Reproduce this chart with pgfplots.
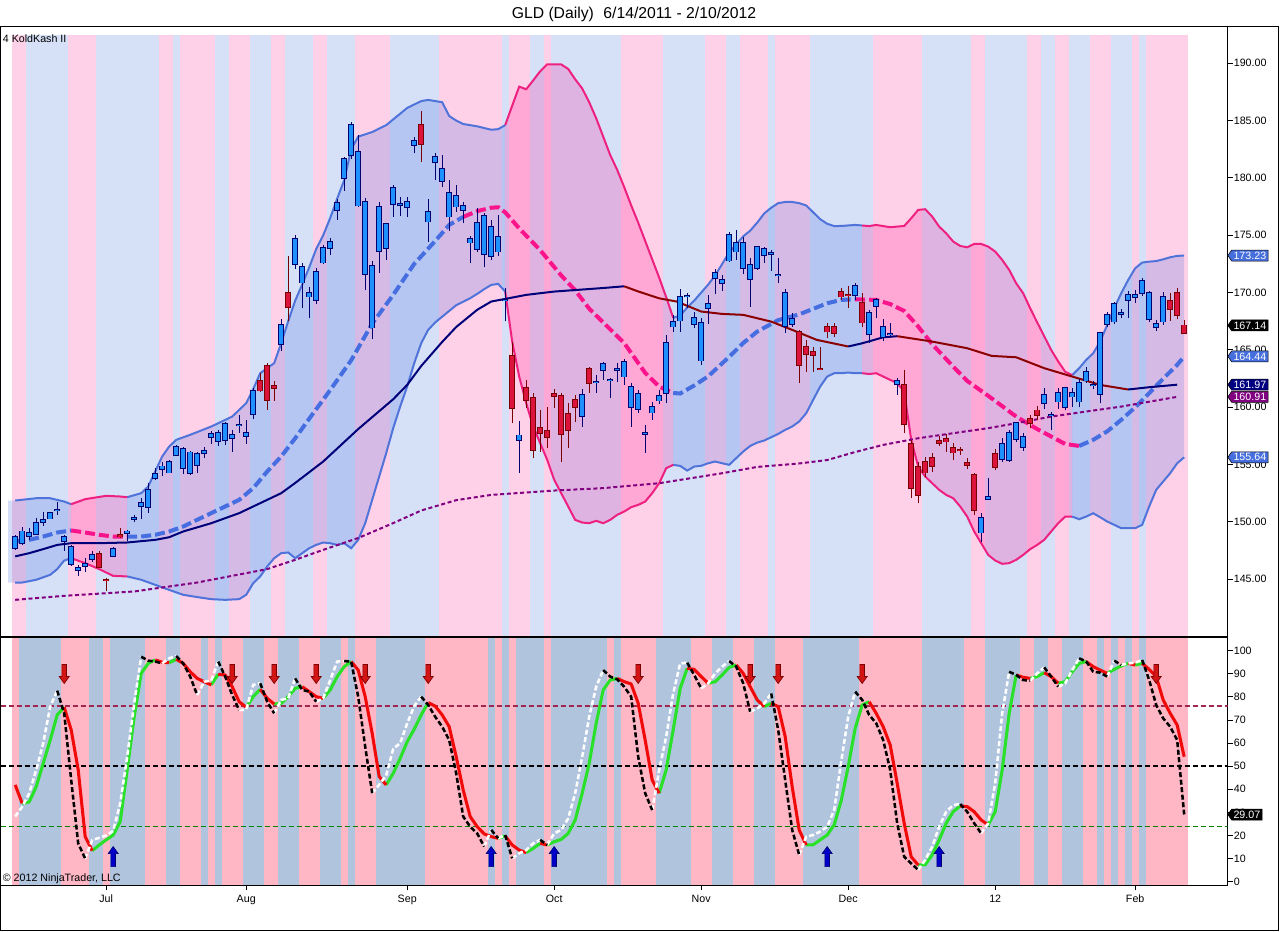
\documentclass[border=0pt]{standalone}
\usepackage{fontspec}
\setmainfont{Liberation Sans}
\usepackage{pgfplots}
\usepackage{pgfplotstable}
\pgfplotsset{compat=1.18}
\usepgfplotslibrary{fillbetween}
\usetikzlibrary{shapes.symbols}

\definecolor{pinkU}{RGB}{255,209,232}
\definecolor{blueU}{RGB}{214,225,247}
\definecolor{pinkL}{RGB}{255,183,197}
\definecolor{blueL}{RGB}{176,196,222}
\definecolor{bbBlue}{RGB}{80,115,218}
\definecolor{bbPink}{RGB}{238,32,128}
\definecolor{fillBlue}{RGB}{65,105,225}
\definecolor{fillPink}{RGB}{255,20,147}
\definecolor{midBlue}{RGB}{70,110,225}
\definecolor{midPink}{RGB}{250,20,140}
\definecolor{maNavy}{RGB}{0,0,120}
\definecolor{maRed}{RGB}{139,0,0}
\definecolor{pmPurple}{RGB}{128,0,128}
\definecolor{cBlue}{RGB}{30,144,255}
\definecolor{cBlueE}{RGB}{0,0,110}
\definecolor{cRed}{RGB}{220,20,60}
\definecolor{cRedE}{RGB}{120,0,0}
\definecolor{stGreen}{RGB}{40,225,40}
\definecolor{stRed}{RGB}{240,10,10}
\definecolor{lvMaroon}{RGB}{160,40,80}
\definecolor{lvGreen}{RGB}{0,130,0}
\definecolor{arRed}{RGB}{210,20,20}
\definecolor{arBlue}{RGB}{0,0,200}
\definecolor{boxBlue}{RGB}{70,110,220}
\definecolor{boxNavy}{RGB}{0,0,128}
\definecolor{boxPurple}{RGB}{128,0,128}

\pgfdeclareplotmark{dnarrow}{%
  \pgfpathmoveto{\pgfqpoint{0pt}{0pt}}%
  \pgfpathlineto{\pgfqpoint{3.75pt}{5.25pt}}%
  \pgfpathlineto{\pgfqpoint{1.75pt}{5.25pt}}%
  \pgfpathlineto{\pgfqpoint{1.75pt}{14.25pt}}%
  \pgfpathlineto{\pgfqpoint{-1.75pt}{14.25pt}}%
  \pgfpathlineto{\pgfqpoint{-1.75pt}{5.25pt}}%
  \pgfpathlineto{\pgfqpoint{-3.75pt}{5.25pt}}%
  \pgfpathclose
  \pgfusepathqfillstroke}
\pgfdeclareplotmark{uparrow}{%
  \pgfpathmoveto{\pgfqpoint{0pt}{0pt}}%
  \pgfpathlineto{\pgfqpoint{3.75pt}{-5.25pt}}%
  \pgfpathlineto{\pgfqpoint{1.75pt}{-5.25pt}}%
  \pgfpathlineto{\pgfqpoint{1.75pt}{-15pt}}%
  \pgfpathlineto{\pgfqpoint{-1.75pt}{-15pt}}%
  \pgfpathlineto{\pgfqpoint{-1.75pt}{-5.25pt}}%
  \pgfpathlineto{\pgfqpoint{-3.75pt}{-5.25pt}}%
  \pgfpathclose
  \pgfusepathqfillstroke}

% ---------- stripes ----------
\pgfplotstableread{
a b
-0.5 167.5
}\stAll
\pgfplotstableread{
a b
-0.5 1.5
7.5 11.5
20.5 22.5
23.5 28.5
30.5 33.5
36.5 38.5
42.5 44.5
48.5 53.5
60.5 69.5
70.5 73.5
75.5 76.5
86.5 92.5
98.5 101.5
103.5 107.5
108.5 113.5
122.5 129.5
136.5 138.5
144.5 146.5
148.5 150.5
153.5 156.5
159.5 160.5
161.5 167.5
}\stUP
\pgfplotstableread{
a b
-0.5 0.5
6.5 10.5
12.5 13.5
18.5 21.5
23.5 26.5
27.5 28.5
29.5 32.5
35.5 37.5
40.5 43.5
46.5 47.5
48.5 51.5
58.5 67.5
68.5 69.5
70.5 71.5
75.5 76.5
84.5 85.5
86.5 91.5
96.5 99.5
102.5 105.5
108.5 112.5
120.5 129.5
135.5 138.5
143.5 145.5
147.5 149.5
152.5 154.5
155.5 156.5
157.5 158.5
159.5 160.5
161.5 167.5
}\stLP

% ---------- candles ----------
\pgfplotstableread{
k o h l c
0 147.71 148.88 147.57 148.73
1 148.15 149.60 148.00 149.17
2 148.79 149.46 148.44 149.02
3 148.97 150.33 148.88 149.95
4 150.01 150.83 149.66 150.19
5 150.30 150.91 150.24 150.77
6 151.00 151.78 150.62 151.06
7 148.30 148.88 147.43 148.68
8 146.35 148.00 146.18 147.86
9 145.77 146.26 145.30 145.97
10 146.18 146.84 145.68 146.35
11 146.76 147.43 146.55 147.14
14 147.05 147.86 146.93 147.63
16 149.02 149.31 148.30 149.17
17 150.27 150.62 150.04 150.33
18 151.41 152.07 150.24 151.64
19 151.29 153.38 150.77 152.80
20 153.82 154.69 153.67 154.17
21 154.60 155.27 154.02 154.84
22 154.31 155.42 154.25 155.27
23 155.80 156.73 155.71 156.58
24 154.69 156.58 154.20 156.35
25 154.25 156.23 154.11 156.06
26 154.98 156.14 154.31 155.91
27 156.00 156.58 155.56 156.23
28 157.39 157.89 156.81 157.68
29 157.07 158.03 156.64 157.80
30 157.16 158.76 156.72 158.55
31 157.30 158.03 156.14 157.59
32 158.40 159.34 157.80 158.47
33 157.51 158.91 156.81 157.80
34 159.43 161.66 158.96 161.46
38 165.53 167.68 164.95 167.19
40 172.50 175.03 172.04 174.65
41 170.87 172.60 168.64 172.27
42 169.65 170.53 167.77 170.00
43 169.36 172.12 169.01 171.83
44 172.62 174.16 172.50 173.87
45 173.87 174.74 173.29 174.45
46 177.21 178.14 176.34 177.79
47 179.97 181.86 178.90 181.63
48 182.01 184.91 181.63 184.62
49 177.59 183.75 177.50 182.24
50 171.63 178.23 170.24 177.88
51 166.95 172.79 165.94 172.33
52 173.64 177.94 171.75 177.50
53 173.87 176.11 172.85 175.99
54 177.73 179.39 176.63 179.10
55 177.66 178.37 176.69 177.73
56 177.44 178.37 176.57 177.88
57 182.88 183.60 182.15 183.25
59 176.19 178.14 174.45 177.06
60 181.37 182.15 179.83 181.80
61 179.74 182.00 179.19 180.76
62 176.63 179.83 175.41 178.72
63 177.50 179.39 177.06 178.46
64 177.21 177.94 176.05 177.56
65 174.36 174.94 172.56 174.65
66 173.78 177.36 173.58 176.05
67 173.37 176.92 172.21 176.69
68 173.20 176.34 172.85 175.76
69 173.58 176.77 173.20 174.83
70 169.30 170.38 167.48 169.36
72 157.16 158.84 154.25 157.54
81 159.25 161.58 158.26 161.08
83 162.18 162.82 161.23 162.24
84 163.26 163.99 162.39 163.78
85 162.33 162.53 160.79 162.39
86 163.26 163.84 162.24 163.32
87 162.68 164.19 161.95 163.99
88 160.00 162.15 158.32 161.81
89 159.83 161.52 159.54 161.14
90 157.68 158.46 156.05 157.74
91 159.54 160.50 158.90 160.00
92 160.59 161.52 160.30 161.00
93 161.23 166.31 160.41 165.64
94 167.04 168.05 166.60 167.44
95 167.56 170.29 166.60 169.59
96 169.65 170.00 168.64 169.71
97 167.27 168.35 166.89 167.76
98 164.07 167.76 163.70 167.39
99 168.64 169.80 167.27 169.01
100 171.25 172.04 169.89 171.69
101 170.82 171.54 170.18 171.11
102 172.79 175.32 172.70 175.03
103 173.58 175.46 172.85 174.36
104 172.12 174.83 171.63 174.30
105 171.16 172.99 168.78 172.41
106 172.12 174.07 171.98 173.95
107 173.29 174.01 172.62 173.78
108 173.37 173.72 171.92 173.43
109 171.48 172.99 170.87 171.54
110 167.10 170.29 166.46 170.00
111 167.27 168.20 166.98 167.68
120 169.80 170.87 169.36 170.58
122 166.40 168.49 165.64 168.20
123 168.84 169.51 167.76 169.36
124 166.11 167.68 165.82 166.98
125 166.34 167.33 166.11 166.40
126 162.04 162.53 161.08 162.33
138 149.08 150.76 148.29 150.33
139 151.99 153.81 151.93 152.16
141 155.47 157.30 155.27 156.81
142 155.36 158.03 155.27 157.74
143 157.22 158.76 157.01 158.61
144 156.52 157.74 156.23 157.39
147 160.35 161.66 159.83 161.08
148 159.28 159.63 158.03 159.34
149 160.50 161.66 159.83 161.23
150 160.00 161.81 159.72 161.66
151 160.94 161.66 160.06 161.23
152 160.50 162.45 160.00 162.10
153 162.33 163.49 162.16 163.12
154 161.89 162.33 161.57 161.95
155 161.17 166.60 160.35 166.46
156 167.27 168.35 167.04 168.06
157 167.47 169.22 167.27 169.01
158 168.14 168.55 167.76 168.20
159 169.36 170.18 167.76 169.80
160 169.60 170.24 169.13 169.80
161 169.94 171.25 169.71 171.05
162 167.68 170.18 167.47 169.94
163 166.98 167.62 166.69 167.27
164 167.47 170.09 167.18 169.65
}\cBlueT
\pgfplotstableread{
k o h l c
12 147.20 147.43 145.97 146.06
13 144.96 145.10 143.94 144.90
15 148.88 149.46 148.59 148.73
35 162.33 162.97 161.37 161.46
36 163.61 163.90 159.77 160.65
37 161.87 162.33 160.59 161.67
39 169.95 173.20 167.56 168.73
58 184.62 185.87 181.42 182.93
71 164.48 165.73 158.61 159.92
73 161.66 162.39 159.92 160.65
74 160.79 161.23 155.56 156.29
75 158.18 159.77 156.14 157.74
76 157.97 160.01 156.43 157.39
77 161.17 161.58 159.92 161.00
78 161.00 161.23 155.27 157.68
79 159.43 160.41 156.43 158.03
80 160.65 161.08 158.76 160.01
82 163.32 163.55 161.23 162.10
112 166.60 166.75 162.10 163.70
113 165.29 165.88 163.12 164.65
114 164.86 165.29 163.12 164.57
115 163.35 165.29 163.26 163.29
116 166.98 167.33 166.02 166.60
117 167.04 167.39 166.17 166.46
118 170.03 170.38 169.36 169.65
119 169.80 170.58 168.64 169.74
121 169.07 169.94 167.04 167.39
127 161.95 163.26 157.80 158.55
128 156.81 157.16 152.07 152.94
129 154.77 155.27 151.69 152.36
130 155.27 155.70 153.90 154.31
131 155.56 155.99 154.40 154.89
132 157.07 157.51 156.63 156.87
133 157.22 157.68 156.14 157.01
134 156.43 156.87 155.36 156.05
135 156.29 156.52 155.85 156.23
136 155.18 155.56 154.60 154.98
137 154.11 154.25 150.62 151.00
140 155.94 156.34 154.54 154.77
145 158.96 159.34 158.17 158.61
146 159.72 160.12 158.90 159.34
165 169.30 169.94 167.56 168.55
166 170.00 170.38 167.68 168.06
167 167.14 167.62 166.40 166.46
}\cRedT

% ---------- Bollinger bands ----------
\pgfplotstableread{
k v
-1 151.87
0 151.87
3 152.07
5 152.07
7 151.78
8 151.55
10 151.99
13 152.28
15 152.22
16 152.16
18 152.51
19 153.09
20 154.40
21 155.71
22 156.58
23 157.16
25 157.60
28 158.32
31 159.19
33 160.36
34 161.58
35 162.97
36 163.41
37 163.85
38 165.59
39 167.5
40 169.3
41 170.7
42 172.2
43 173.8
44 175.0
45 176.5
46 178.2
47 179.8
48 182.5
49 183.6
51 184.0
53 184.6
55 185.6
56 186.1
58 186.7
59 186.8
61 186.6
62 185.4
63 185.0
64 184.7
66 184.5
68 184.2
69 184.25
70 184.6
71 186.3
72 187.96
73 187.73
74 188.5
75 189.3
76 189.9
77 189.9
78 189.9
79 189.5
80 188.6
81 187.8
82 186.6
83 185.2
84 183.6
85 182.0
86 180.7
87 179.2
88 177.6
89 176.1
90 174.5
91 172.9
92 171.3
93 169.6
94 167.8
95 168.0
96 168.7
97 169.3
98 170.0
99 170.7
100 171.5
101 172.5
102 173.5
103 174.2
104 174.9
105 175.4
106 176.1
107 176.9
108 177.4
109 177.8
110 177.9
111 177.9
112 177.8
113 177.6
114 177.0
115 176.4
116 176.0
117 175.8
118 175.81
120 175.9
121 175.85
122 175.8
123 175.9
125 175.7
127 175.81
128 176.48
129 177.21
130 177.27
131 176.63
132 175.75
133 175.17
134 174.45
135 174.07
136 173.95
137 174.24
138 174.24
139 174.01
140 173.58
141 172.85
142 171.98
143 170.81
144 169.94
145 168.63
146 167.4
147 166.2
148 165.0
149 164.0
150 163.1
151 162.8
152 163.41
153 164.13
154 164.71
155 165.73
156 167.18
157 168.64
158 169.94
159 171.1
160 172.12
161 172.62
162 172.7
163 172.75
164 172.9
165 173.08
166 173.2
167 173.23
}\bbU
\pgfplotstableread{
k v
-1 144.72
0 144.72
1 144.72
3 144.96
5 145.39
6 145.89
7 146.64
8 146.84
10 146.41
12 145.89
14 145.30
16 145.25
18 144.96
20 144.52
22 144.08
24 143.65
26 143.45
28 143.27
30 143.21
32 143.27
33 143.65
34 144.66
35 145.25
36 146.12
37 146.84
38 147.28
39 147.34
40 146.84
41 147.28
42 147.71
43 148.00
44 148.21
45 148.15
46 148.00
47 148.15
48 147.71
49 148.44
50 149.89
51 151.93
52 153.96
53 156.00
54 158.18
55 160.07
56 161.81
57 163.84
58 165.59
59 166.75
60 167.4
61 167.9
62 168.4
63 168.9
64 169.2
65 169.51
66 169.89
67 170.30
68 170.67
69 170.76
70 170.09
71 165.73
72 162.68
73 160.36
74 158.32
75 156.87
76 155.42
77 153.67
78 152.51
79 151.35
80 150.18
81 149.95
82 149.89
83 150.10
84 149.89
85 150.18
86 150.62
87 150.91
88 151.29
89 151.49
90 151.78
91 152.51
92 153.38
93 154.69
94 154.98
95 154.89
96 154.48
97 154.83
98 154.90
99 155.12
100 155.27
101 155.12
102 154.98
103 155.56
104 156.14
105 156.63
106 156.92
107 157.10
108 157.39
109 157.68
110 158.03
111 158.32
112 158.76
113 159.48
114 160.65
115 161.81
116 162.68
117 162.97
118 162.97
119 163.03
120 162.97
121 162.97
122 162.90
123 162.97
124 162.68
125 162.39
126 162.10
127 161.37
128 157.16
129 154.83
130 153.96
131 153.38
132 152.80
133 152.36
134 152.07
135 151.35
136 150.47
137 149.17
138 148.15
139 147.13
140 146.64
141 146.35
142 146.41
143 146.70
144 147.13
145 147.63
146 148.00
147 148.44
148 149.17
149 149.89
150 150.47
151 150.47
152 150.24
153 150.47
154 150.76
155 150.41
156 150.04
157 149.75
158 149.46
159 149.46
160 149.46
161 149.75
162 151.35
163 152.80
164 153.53
165 154.25
166 155.12
167 155.64
}\bbL
\pgfplotstableread{
k v
0 148.3
2 148.44
4 148.73
6 149.08
8 149.26
10 149.08
12 148.88
14 148.73
16 148.73
18 148.73
20 148.88
22 149.17
24 149.6
26 150.19
28 150.77
30 151.35
32 151.93
34 152.95
36 154.4
38 155.71
40 157.3
42 159.0
45 161.5
48 164.1
51 167.3
54 169.8
57 172.5
60 174.5
62 175.9
64 176.6
66 177.1
68 177.4
69 177.44
70 177.0
72 175.6
75 173.7
78 171.5
80 170.2
82 168.6
84 167.4
87 165.6
90 163.0
92 161.8
94 161.25
95 161.2
97 161.9
99 162.7
102 164.4
104 165.6
106 166.6
109 167.6
112 168.1
116 169.07
118 169.36
120 169.42
123 169.36
125 169.0
127 168.4
129 167.04
131 165.5
134 163.55
136 162.3
139 161.0
141 160.1
143 159.19
146 158.1
148 157.45
150 156.8
152 156.63
154 157.16
156 157.9
158 158.9
160 160.0
162 161.23
164 162.5
166 163.7
167 164.44
}\bbM
\pgfplotstableread{
k v
0 147.0
2 147.28
4 147.63
6 148.0
8 148.15
12 148.15
16 148.21
20 148.44
22 148.67
24 149.17
28 149.89
32 150.77
36 151.93
38 152.51
40 153.4
44 155.27
49 158.1
54 160.7
56 161.95
58 163.6
61 165.7
63 167.0
66 168.5
68 169.22
70 169.45
73 169.8
77 170.09
84 170.4
87 170.55
89 170.1
92 169.5
94.5 169.22
98 168.35
101 168.14
104 168.06
108 167.47
111 166.75
114.5 165.88
119 165.3
121 165.58
124 166.1
126 166.2
131 165.73
136 165.15
139.5 164.48
143 164.36
147 163.41
151 162.68
155 161.95
159 161.55
162 161.75
166 161.97
}\maT
\pgfplotstableread{
k v
0 143.21
7 143.56
17 143.94
26 144.72
36 145.89
40 146.7
44 147.57
49 148.6
54 149.9
58 151.0
63 151.9
68 152.36
73 152.57
77 152.74
84 152.95
92 153.38
101 154.25
106 154.8
112 155.1
116 155.4
120 156.1
124 156.72
129 157.3
134 157.74
139 158.18
143 158.61
148 159.19
153 159.63
158 160.06
166 160.91
}\pmT

% ---------- stochastics ----------
\pgfplotstableread{
k d s
0 28.2 41.9
1 32.5 33.9
2 38.2 34.5
3 48.4 41.1
4 59.9 51.2
5 75.8 61.3
6 82.7 72.2
7 72.9 75.5
8 44.0 65.7
9 16.6 48.4
10 10.0 19.5
11 18.0 13.4
12 19.0 15.9
13 20.0 18.1
14 22.0 20.2
15 33.9 26.0
16 54.1 48.4
17 77.2 71.4
18 97.4 90.2
19 95.7 94.5
20 95.3 96.0
21 94.5 95.0
22 96.7 94.8
23 97.7 96.3
24 94.5 94.5
25 88.8 90.9
26 80.8 88.0
27 86.6 86.6
28 87.0 85.2
29 95.3 89.8
30 88.8 89.5
31 80.8 84.4
32 74.3 77.9
33 74.5 75.5
34 85.2 80.1
35 85.9 83.3
36 77.9 79.4
37 72.9 76.9
38 78.7 77.2
39 79.4 80.1
40 88.0 83.7
41 83.0 84.4
42 82.3 82.3
43 77.9 80.1
44 79.4 79.4
45 87.3 83.0
46 95.3 88.8
47 95.5 93.1
48 95.3 95.3
49 80.1 91.6
50 58.5 80.1
51 38.3 64.2
52 42.0 45.5
53 46.0 41.9
54 57.5 46.9
55 60.0 53.4
56 68.5 60.6
57 76.0 66.0
58 80.1 72.2
59 76.5 77.5
60 71.4 76.0
61 67.1 72.2
62 61.3 67.1
63 46.9 54.1
64 28.2 39.7
65 23.8 28.2
66 20.9 23.8
67 15.2 20.7
68 22.4 19.5
69 18.8 18.8
70 20.2 19.8
71 10.1 15.9
72 12.3 13.7
73 13.7 12.6
74 16.6 14.4
75 18.1 16.6
76 15.9 15.9
77 20.9 17.3
78 22.4 18.3
79 27.4 20.9
80 38.3 26.7
81 54.1 38.3
82 71.4 51.2
83 84.4 68.6
84 91.6 83.0
85 88.8 87.3
86 87.6 88.0
87 84.4 86.6
88 80.1 85.6
89 54.1 77.2
90 38.3 61.3
91 31.0 44.0
92 48.4 38.3
93 62.8 48.4
94 81.5 65.7
95 94.5 83.7
96 94.8 92.4
97 89.5 91.9
98 83.7 88.8
99 85.9 85.9
100 90.2 86.6
101 93.1 89.5
102 95.5 92.8
103 93.1 93.8
104 85.9 90.2
105 73.6 84.4
106 75.0 78.7
107 77.2 75.8
108 81.5 77.2
109 65.7 75.8
110 44.0 62.8
111 22.4 41.1
112 11.6 22.4
113 19.5 15.9
114 20.2 16.0
115 21.7 18.1
116 23.8 20.2
117 31.0 24.6
118 52.0 35.0
119 71.4 49.8
120 82.3 66.4
121 78.7 76.5
122 72.2 77.9
123 68.6 72.9
124 61.3 67.1
125 48.4 59.2
126 25.3 42.6
127 10.8 25.3
128 7.9 10.8
129 5.1 7.2
130 9.4 7.3
131 15.2 11.6
132 23.8 18.1
133 30.3 25.3
134 33.2 30.3
135 33.6 32.8
136 30.3 32.5
137 25.3 30.3
138 20.9 26.7
139 25.3 24.6
140 42.6 30.3
141 72.9 48.4
142 90.9 72.9
143 89.5 89.5
144 87.3 88.5
145 87.0 88.0
146 90.2 88.8
147 92.8 90.5
148 88.8 88.8
149 84.4 85.9
150 85.9 86.6
151 91.6 90.9
152 96.7 94.5
153 95.3 95.3
154 90.9 93.1
155 90.5 91.6
156 88.8 90.2
157 95.7 91.9
158 93.8 93.4
159 94.5 94.5
160 94.8 93.8
161 96.0 94.5
162 87.3 91.9
163 76.5 88.8
164 70.7 78.7
165 67.1 72.9
166 61.3 67.8
167 29.1 54.1
}\stoT

\pgfplotsset{panel/.style={
  scale only axis, width=920.25pt, xmin=-2.1, xmax=173.19,
  set layers, clip bounding box=upper bound,
  axis line style={line width=0.75pt},
  every tick/.style={line width=0.75pt, black},
  tick align=outside, major tick length=3.75pt,
  ytick pos=right, yticklabel pos=right,
  /pgf/number format/assume math mode=true,
  tick label style={font=\fontsize{8pt}{9pt}\selectfont},
  yticklabel style={inner xsep=0.8pt},
}}
\tikzset{vbox/.style={signal, signal to=west, signal pointer angle=110,
  draw=black, line width=0.4pt, fill=#1, text=white,
  font=\fontsize{8pt}{9pt}\selectfont, inner xsep=1.4pt, inner ysep=1.3pt, anchor=west}}

\begin{document}
\begin{tikzpicture}

% ================= upper panel =================
\begin{axis}[panel, at={(0.375pt,220.5pt)}, anchor=south west, height=457.5pt,
  ymin=139.97, ymax=193.16, xtick=\empty, ytick={145,150,...,190},
  yticklabel style={/pgf/number format/.cd, fixed, fixed zerofill, precision=2}]
% background stripes
\addplot[on layer=axis background, draw=blueU, line width=452pt, quiver={u={\thisrow{b}-\thisrow{a}}, v=0}]
  table[x=a, y expr=166.22] {\stAll};
\addplot[on layer=axis background, draw=pinkU, line width=452pt, quiver={u={\thisrow{b}-\thisrow{a}}, v=0}]
  table[x=a, y expr=166.22] {\stUP};
% band paths
\addplot[draw=none, name path=U] table[x=k, y=v] {\bbU};
\addplot[draw=none, name path=L] table[x=k, y=v] {\bbL};
\pgfplotsinvokeforeach{-1:8,16:70,94:121,151:167}{
  \addplot[draw=none, fill=fillBlue, fill opacity=0.22] fill between[of=U and L, soft clip={domain=#1}];}
\pgfplotsinvokeforeach{8:16,70:94,121:151}{
  \addplot[draw=none, fill=fillPink, fill opacity=0.22] fill between[of=U and L, soft clip={domain=#1}];}
% band lines
\pgfplotsinvokeforeach{0:8,16:70,94:121,151:167}{
  \addplot[bbBlue, line width=1.5pt, restrict x to domain=#1] table[x=k, y=v] {\bbU};
  \addplot[bbBlue, line width=1.5pt, restrict x to domain=#1] table[x=k, y=v] {\bbL};}
\pgfplotsinvokeforeach{8:16,70:94,121:151}{
  \addplot[bbPink, line width=1.5pt, restrict x to domain=#1] table[x=k, y=v] {\bbU};
  \addplot[bbPink, line width=1.5pt, restrict x to domain=#1] table[x=k, y=v] {\bbL};}
% middle band dashed
\pgfplotsinvokeforeach{0:8,16:64,94:120,152:167}{
  \addplot[midBlue, line width=3pt, dash pattern=on 7.5pt off 3pt, restrict x to domain=#1] table[x=k, y=v] {\bbM};}
\pgfplotsinvokeforeach{8:16,64:94,120:152}{
  \addplot[midPink, line width=3pt, dash pattern=on 7.5pt off 3pt, restrict x to domain=#1] table[x=k, y=v] {\bbM};}
% long MA dashed
\addplot[pmPurple, line width=1.5pt, dash pattern=on 3pt off 2pt] table[x=k, y=v] {\pmT};
% MA solid
\pgfplotsinvokeforeach{0:87,119:126,159:166}{
  \addplot[maNavy, line width=1.5pt, restrict x to domain=#1] table[x=k, y=v] {\maT};}
\pgfplotsinvokeforeach{87:119,126:159}{
  \addplot[maRed, line width=1.5pt, restrict x to domain=#1] table[x=k, y=v] {\maT};}
% candles
\addplot[draw=cBlueE, line width=0.75pt, quiver={u=0, v={\thisrow{h}-\thisrow{l}}}]
  table[x=k, y=l] {\cBlueT};
\addplot[draw=cRedE, line width=0.75pt, quiver={u=0, v={\thisrow{h}-\thisrow{l}}}]
  table[x=k, y=l] {\cRedT};
\addplot[draw=cBlueE, line width=4.3pt, quiver={u=0, v={abs(\thisrow{c}-\thisrow{o})+0.14}}]
  table[x=k, y expr={min(\thisrow{o},\thisrow{c})-0.07}] {\cBlueT};
\addplot[draw=cRedE, line width=4.3pt, quiver={u=0, v={abs(\thisrow{c}-\thisrow{o})+0.14}}]
  table[x=k, y expr={min(\thisrow{o},\thisrow{c})-0.07}] {\cRedT};
\addplot[draw=cBlue, line width=3pt, quiver={u=0, v={abs(\thisrow{c}-\thisrow{o})}}]
  table[x=k, y expr={min(\thisrow{o},\thisrow{c})}] {\cBlueT};
\addplot[draw=cRed, line width=3pt, quiver={u=0, v={abs(\thisrow{c}-\thisrow{o})}}]
  table[x=k, y expr={min(\thisrow{o},\thisrow{c})}] {\cRedT};
\coordinate (v1) at (axis cs:173.19,173.23);
\coordinate (v2) at (axis cs:173.19,167.14);
\coordinate (v3) at (axis cs:173.19,164.44);
\coordinate (v4) at (axis cs:173.19,161.97);
\coordinate (v5) at (axis cs:173.19,160.91);
\coordinate (v6) at (axis cs:173.19,155.64);
\end{axis}

% ================= lower panel =================
\begin{axis}[panel, at={(0.375pt,34.5pt)}, anchor=south west, height=185.25pt,
  ymin=-1.43, ymax=105.5, ytick={0,10,...,100},
  xtick={13,33,56,77,98,119,140,160}, xticklabels={Jul,Aug,Sep,Oct,Nov,Dec,12,Feb},
  xtick pos=left]
\addplot[on layer=axis background, draw=blueL, line width=186pt, quiver={u={\thisrow{b}-\thisrow{a}}, v=0}]
  table[x=a, y expr=52.04] {\stAll};
\addplot[on layer=axis background, draw=pinkL, line width=186pt, quiver={u={\thisrow{b}-\thisrow{a}}, v=0}]
  table[x=a, y expr=52.04] {\stLP};
\addplot[lvMaroon, line width=1.1pt, dash pattern=on 3.75pt off 2.25pt] coordinates {(-2.1,76) (173.19,76)};
\addplot[black, line width=1.1pt, dash pattern=on 3.75pt off 2.25pt] coordinates {(-2.1,50) (173.19,50)};
\addplot[lvGreen, line width=1.1pt, dash pattern=on 3.75pt off 2.25pt] coordinates {(-2.1,24) (173.19,24)};
% solid smoothed line
\pgfplotsinvokeforeach{1:7,11:20,22:23,28:29,33:35,37:41,44:48,53:59,69:70,73:75,76:86,92:96,99:103,107:108,113:122,129:135,139:143,145:147,149:153,156:159,160:161}{
  \addplot[stGreen, line width=2.3pt, line join=round, restrict x to domain=#1] table[x=k, y=s] {\stoT};}
\pgfplotsinvokeforeach{0:1,7:11,20:22,23:28,29:33,35:37,41:44,48:53,59:69,70:73,75:76,86:92,96:99,103:107,108:113,122:129,135:139,143:145,147:149,153:156,159:160,161:167}{
  \addplot[stRed, line width=2.3pt, line join=round, restrict x to domain=#1] table[x=k, y=s] {\stoT};}
% dashed fast line
\pgfplotsinvokeforeach{0:6,10:18,21:23,26:29,32:35,37:40,43:47,51:58,67:68,69:70,71:75,76:84,91:96,98:102,105:108,112:120,129:135,138:142,145:147,149:152,156:157,158:161}{
  \addplot[white, line width=1.9pt, dash pattern=on 3.75pt off 1.9pt, restrict x to domain=#1] table[x=k, y=d] {\stoT};}
\pgfplotsinvokeforeach{6:10,18:21,23:26,29:32,35:37,40:43,47:51,58:67,68:69,70:71,75:76,84:91,96:98,102:105,108:112,120:129,135:138,142:145,147:149,152:156,157:158,161:167}{
  \addplot[black, line width=1.9pt, dash pattern=on 3.75pt off 1.9pt, restrict x to domain=#1] table[x=k, y=d] {\stoT};}
% signal arrows
\addplot[only marks, mark=dnarrow, draw=cRedE, fill=arRed, mark options={solid, line width=0.5pt}]
  coordinates {(7,85.8) (31,85.8) (37,85.8) (43,85.8) (50,85.8) (59,85.8) (89,85.8) (105,85.8) (109,85.8) (121,85.8) (163,85.8)};
\addplot[only marks, mark=uparrow, draw=cBlueE, fill=arBlue, mark options={solid, line width=0.5pt}]
  coordinates {(14,15.2) (68,15.2) (77,15.2) (116,15.2) (132,15.2)};
\coordinate (v7) at (axis cs:173.19,29.07);
\end{axis}

% ================= frame, texts, value boxes =================
\draw[line width=0.75pt] (0.375pt,0.75pt) rectangle (958.5pt,678pt);
\node[font=\fontsize{11.8pt}{13pt}\selectfont, inner sep=0pt] at (475.5pt,687.4pt) {GLD (Daily)\hspace{0.6em}6/14/2011 - 2/10/2012};
\node[anchor=west, font=\fontsize{8pt}{9pt}\selectfont, inner sep=0pt] at (2pt,669pt) {4 KoldKash II};
\node[anchor=west, font=\fontsize{8pt}{9pt}\selectfont, inner sep=0pt] at (2pt,39pt) {\textcopyright\ 2012 NinjaTrader, LLC};
\node[vbox=boxBlue] at (v1) {173.23};
\node[vbox=black] at (v2) {167.14};
\node[vbox=boxBlue] at (v3) {164.44};
\node[vbox=boxNavy] at (v4) {161.97};
\node[vbox=boxPurple] at (v5) {160.91};
\node[vbox=boxBlue] at (v6) {155.64};
\node[vbox=black] at (v7) {29.07};
\path (0pt,0pt) rectangle (960pt,698.25pt);
\end{tikzpicture}
\end{document}
